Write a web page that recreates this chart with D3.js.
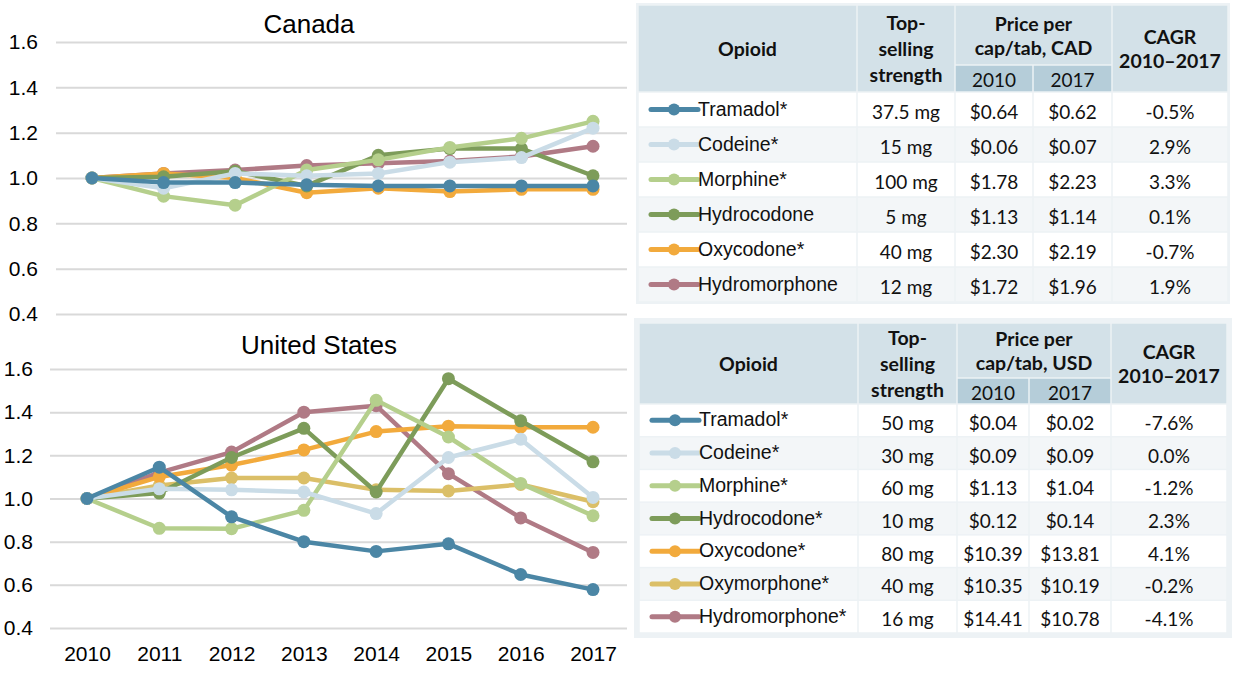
<!DOCTYPE html>
<html><head><meta charset="utf-8">
<script src="https://cdn.jsdelivr.net/npm/d3@7"></script>
<style>
body{margin:0;background:#fff;}
svg{display:block;}
</style></head>
<body>
<svg id="c" width="1239" height="683"></svg>
<script>
// ---------- DATA ----------
const years = [2010, 2011, 2012, 2013, 2014, 2015, 2016, 2017];
const yTicks = [0.4, 0.6, 0.8, 1.0, 1.2, 1.4, 1.6];

const caDrugs = ["Tramadol*", "Codeine*", "Morphine*", "Hydrocodone", "Oxycodone*", "Hydromorphone"];
const caKeys  = ["Tramadol", "Codeine", "Morphine", "Hydrocodone", "Oxycodone", "Hydromorphone"];
const caTramadol      = [1.00, 0.98, 0.98, 0.97, 0.965, 0.965, 0.965, 0.965];
const caCodeine       = [1.00, 0.955, 1.02, 1.01, 1.02, 1.07, 1.09, 1.22];
const caMorphine      = [1.00, 0.92, 0.88, 1.035, 1.08, 1.135, 1.175, 1.25];
const caHydrocodone   = [1.00, 1.005, 1.03, 0.965, 1.10, 1.13, 1.13, 1.01];
const caOxycodone     = [1.00, 1.02, 1.00, 0.935, 0.955, 0.94, 0.95, 0.95];
const caHydromorphone = [1.00, 1.02, 1.035, 1.055, 1.065, 1.075, 1.095, 1.14];
const caStrength  = ["37.5 mg", "15 mg", "100 mg", "5 mg", "40 mg", "12 mg"];
const caPrice2010 = ["$0.64", "$0.06", "$1.78", "$1.13", "$2.30", "$1.72"];
const caPrice2017 = ["$0.62", "$0.07", "$2.23", "$1.14", "$2.19", "$1.96"];
const caCAGR      = ["-0.5%", "2.9%", "3.3%", "0.1%", "-0.7%", "1.9%"];

const usDrugs = ["Tramadol*", "Codeine*", "Morphine*", "Hydrocodone*", "Oxycodone*", "Oxymorphone*", "Hydromorphone*"];
const usKeys  = ["Tramadol", "Codeine", "Morphine", "Hydrocodone", "Oxycodone", "Oxymorphone", "Hydromorphone"];
const usTramadol      = [1.00, 1.145, 0.915, 0.80, 0.755, 0.79, 0.648, 0.578];
const usCodeine       = [1.00, 1.045, 1.04, 1.03, 0.93, 1.19, 1.275, 1.005];
const usMorphine      = [1.00, 0.862, 0.86, 0.945, 1.455, 1.285, 1.07, 0.92];
const usHydrocodone   = [1.00, 1.025, 1.19, 1.325, 1.03, 1.555, 1.36, 1.17];
const usOxycodone     = [1.00, 1.10, 1.155, 1.225, 1.31, 1.335, 1.33, 1.33];
const usOxymorphone   = [1.00, 1.06, 1.095, 1.095, 1.04, 1.035, 1.065, 0.985];
const usHydromorphone = [1.00, 1.12, 1.215, 1.40, 1.43, 1.115, 0.91, 0.75];
const usStrength  = ["50 mg", "30 mg", "60 mg", "10 mg", "80 mg", "40 mg", "16 mg"];
const usPrice2010 = ["$0.04", "$0.09", "$1.13", "$0.12", "$10.39", "$10.35", "$14.41"];
const usPrice2017 = ["$0.02", "$0.09", "$1.04", "$0.14", "$13.81", "$10.19", "$10.78"];
const usCAGR      = ["-7.6%", "0.0%", "-1.2%", "2.3%", "4.1%", "-0.2%", "-4.1%"];

const colors = {
  Tramadol: "#4b86a5", Codeine: "#cadce7", Morphine: "#b5cf8c", Hydrocodone: "#7d9c5a",
  Oxycodone: "#f2aa3c", Oxymorphone: "#dbbf68", Hydromorphone: "#b07a85"
};

const caValues = [caTramadol, caCodeine, caMorphine, caHydrocodone, caOxycodone, caHydromorphone];
const usValues = [usTramadol, usCodeine, usMorphine, usHydrocodone, usOxycodone, usOxymorphone, usHydromorphone];

// ---------- DRAW ----------
const svg = d3.select("#c");
svg.append("rect").attr("width", 1239).attr("height", 683).attr("fill", "#fff");
const chartFont = "'Liberation Sans', Arial, sans-serif";
const tableFont = "Lato, 'Open Sans', sans-serif";

function drawChart(cfg) {
  const g = svg.append("g");
  const x = d3.scalePoint().domain(years).range(cfg.xRange);
  const y = d3.scaleLinear().domain([0.4, 1.6]).range(cfg.yRange);
  const ax = g.append("g").attr("transform", `translate(${cfg.gridLeft},0)`)
    .call(d3.axisLeft(y).tickValues(yTicks).tickFormat(d3.format(".1f"))
      .tickSize(-(cfg.gridRight - cfg.gridLeft)).tickPadding(cfg.gridLeft - cfg.labelRight));
  ax.select(".domain").remove();
  ax.selectAll("line").attr("stroke", "#d9d9d9").attr("stroke-width", 2);
  ax.selectAll("text").attr("font-family", chartFont).attr("font-size", 21).attr("fill", "#000");

  if (cfg.showX) {
    const bx = g.append("g").attr("transform", `translate(0,${cfg.yRange[0]})`)
      .call(d3.axisBottom(x).tickSize(0).tickPadding(18));
    bx.select(".domain").remove();
    bx.selectAll("text").attr("font-family", chartFont).attr("font-size", 21).attr("fill", "#000");
  }
  g.append("text").attr("x", cfg.titleX).attr("y", cfg.titleY).attr("text-anchor", "middle")
    .attr("font-family", chartFont).attr("font-size", 26).attr("fill", "#000").text(cfg.title);

  const line = d3.line().x((d, i) => x(years[i])).y(d => y(d));
  // draw in reverse so first series ends on top
  for (let k = cfg.keys.length - 1; k >= 0; k--) {
    const c = colors[cfg.keys[k]];
    const vals = cfg.values[k];
    g.append("path").datum(vals).attr("d", line).attr("fill", "none")
      .attr("stroke", c).attr("stroke-width", 4.5).attr("stroke-linejoin", "round");
    g.selectAll(null).data(vals).enter().append("circle")
      .attr("cx", (d, i) => x(years[i])).attr("cy", d => y(d)).attr("r", 6.5).attr("fill", c);
  }
}

drawChart({ keys: caKeys, values: caValues, xRange: [92, 593], yRange: [314, 42],
  gridLeft: 56, gridRight: 627, labelRight: 38, title: "Canada", titleX: 309, titleY: 33, showX: false });
drawChart({ keys: usKeys, values: usValues, xRange: [87, 593], yRange: [628, 369],
  gridLeft: 50, gridRight: 627, labelRight: 33, title: "United States", titleX: 319, titleY: 354, showX: true });

function drawTable(cfg) {
  const g = svg.append("g");
  const cx = cfg.cols;
  const n = cfg.drugs.length;
  const rowH = (cfg.bottom - cfg.dataTop) / n;
  // frame
  g.append("rect").attr("x", cx[0] - cfg.pad).attr("y", cfg.top - cfg.pad)
    .attr("width", cx[5] - cx[0] + 2 * cfg.pad).attr("height", cfg.bottom - cfg.top + 2 * cfg.pad)
    .attr("fill", "#edf2f5");
  const gap = 1.5;
  const cell = (x0, x1, y0, y1, fill) => g.append("rect").attr("x", x0 + gap / 2).attr("y", y0 + gap / 2)
    .attr("width", x1 - x0 - gap).attr("height", y1 - y0 - gap).attr("fill", fill);
  const hdr = "#d3e1e8", sub = "#b5cdd9";
  cell(cx[0], cx[1], cfg.top, cfg.dataTop, hdr);
  cell(cx[1], cx[2], cfg.top, cfg.dataTop, hdr);
  cell(cx[2], cx[4], cfg.top, cfg.subTop, hdr);
  cell(cx[2], cx[3], cfg.subTop, cfg.dataTop, sub);
  cell(cx[3], cx[4], cfg.subTop, cfg.dataTop, sub);
  cell(cx[4], cx[5], cfg.top, cfg.dataTop, hdr);

  const txt = (x, y, s, opt = {}) => g.append("text").attr("x", x).attr("y", y)
    .attr("text-anchor", opt.anchor || "middle").attr("dominant-baseline", "central")
    .attr("font-family", opt.font || tableFont).attr("font-size", opt.size || 19)
    .attr("font-weight", opt.bold ? 700 : 400).attr("fill", "#111").text(s);
  const mid = (a, b) => (a + b) / 2;
  const hm = mid(cfg.top, cfg.dataTop);
  const hs = 19.5;
  txt(mid(cx[0], cx[1]), hm, "Opioid", { bold: true, size: hs });
  const lh = cfg.lineH;
  ["Top-", "selling", "strength"].forEach((s, i) => txt(mid(cx[1], cx[2]), hm + (i - 1) * lh, s, { bold: true, size: hs }));
  const pm = mid(cfg.top, cfg.subTop);
  txt(mid(cx[2], cx[4]), pm - lh / 2 + 1, "Price per", { bold: true, size: hs });
  txt(mid(cx[2], cx[4]), pm + lh / 2 - 1, cfg.priceLabel, { bold: true, size: hs });
  txt(mid(cx[2], cx[3]), mid(cfg.subTop, cfg.dataTop) + 1, "2010");
  txt(mid(cx[3], cx[4]), mid(cfg.subTop, cfg.dataTop) + 1, "2017");
  txt(mid(cx[4], cx[5]), hm - lh / 2 + 1, "CAGR", { bold: true, size: hs });
  txt(mid(cx[4], cx[5]), hm + lh / 2 - 1, "2010–2017", { bold: true, size: hs });

  cfg.drugs.forEach((d, i) => {
    const y0 = cfg.dataTop + i * rowH, y1 = y0 + rowH;
    const fill = i % 2 === 0 ? "#ffffff" : "#f3f6f8";
    for (let c = 0; c < 5; c++) cell(cx[c], cx[c + 1], y0, y1, fill);
    const ym = mid(y0, y1);
    const col = colors[cfg.keys[i]];
    g.append("line").attr("x1", cx[0] + 13).attr("x2", cx[0] + 60).attr("y1", ym).attr("y2", ym)
      .attr("stroke", col).attr("stroke-width", 5).attr("stroke-linecap", "round");
    g.append("circle").attr("cx", cx[0] + 36).attr("cy", ym).attr("r", 6).attr("fill", col);
    txt(cx[0] + 60, ym - 1, d, { anchor: "start", font: chartFont, size: 19.5 });
    txt(mid(cx[1], cx[2]), ym + 2, cfg.strength[i]);
    txt(mid(cx[2], cx[3]), ym + 2, cfg.p2010[i]);
    txt(mid(cx[3], cx[4]), ym + 2, cfg.p2017[i]);
    txt(mid(cx[4], cx[5]), ym + 2, cfg.cagr[i]);
  });
}

drawTable({ drugs: caDrugs, keys: caKeys, strength: caStrength, p2010: caPrice2010, p2017: caPrice2017, cagr: caCAGR,
  cols: [638, 857, 955, 1033, 1112, 1228], top: 5, subTop: 65, dataTop: 92, bottom: 302, pad: 2, lineH: 26,
  priceLabel: "cap/tab, CAD" });
drawTable({ drugs: usDrugs, keys: usKeys, strength: usStrength, p2010: usPrice2010, p2017: usPrice2017, cagr: usCAGR,
  cols: [639, 858, 957, 1029, 1111, 1227], top: 323, subTop: 378, dataTop: 404, bottom: 633, pad: 5, lineH: 26,
  priceLabel: "cap/tab, USD" });
</script>
</body></html>
